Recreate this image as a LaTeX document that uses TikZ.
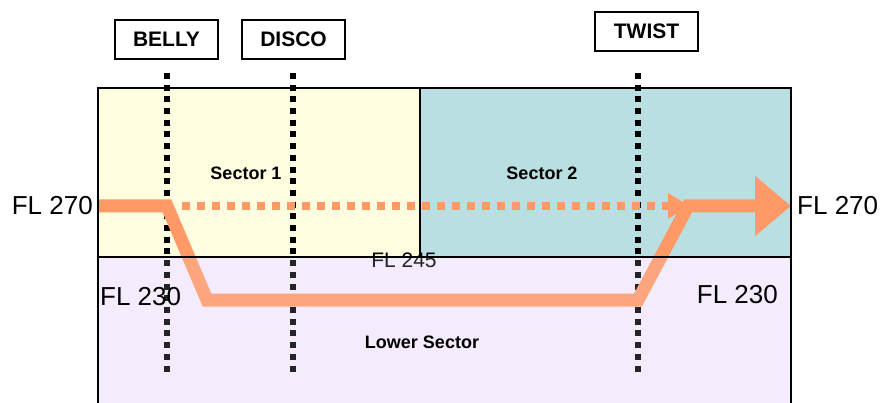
\documentclass[tikz,border=0pt]{standalone}
\usepackage{fontspec}
\setmainfont{Liberation Sans}
\usepackage{tikz}
\usetikzlibrary{arrows.meta}

\definecolor{secone}{HTML}{FFFDE0}
\definecolor{sectwo}{HTML}{B9DFE2}
\definecolor{seclow}{HTML}{F4ECFC}
\definecolor{route}{HTML}{FF9966}

\begin{document}
\begin{tikzpicture}[x=1pt, y=-1pt,
  fix/.style={draw, line width=2pt, minimum width=103pt, minimum height=39pt, inner sep=0pt, font=\fontsize{21}{21}\selectfont\bfseries},
  fixline/.style={line width=6.5pt, dash pattern=on 6pt off 5.7pt},
  fl/.style={font=\fontsize{26}{26}\selectfont, inner sep=0pt},
  sec/.style={font=\fontsize{18}{18}\selectfont\bfseries}]
  \useasboundingbox (0,0) rectangle (880,403);
  \fill[secone] (98,88) rectangle (420,257);
  \fill[sectwo] (420,88) rectangle (791,257);
  \fill[seclow] (98,257) rectangle (791,410);
  \node[sec] (s1) at (246,173) {Sector 1};
  \node[sec] (s2) at (542,173) {Sector 2};
  \node[font=\fontsize{21}{21}\selectfont, inner sep=0pt] (fl245) at (404,260) {FL 245};

  \node[fix] (belly) at (166.5,39.5) {BELLY};
  \node[fix] (disco) at (293.5,39.5) {DISCO};
  \node[fix] (twist) at (646.5,31.5) {TWIST};
  \foreach \x in {167,293,638}
    \draw[fixline] (\x,73) -- (\x,371.5);

  \coordinate (in) at (98,206);
  \coordinate (c1) at (167,206);
  \coordinate (c2) at (207,300);
  \coordinate (c3) at (638,300);
  \coordinate (c4) at (688,206);
  \coordinate (out) at (791,206);
  \coordinate (d1) at (182,206);
  \coordinate (d2) at (690,206);
  \draw[route, line width=8pt, dash pattern=on 8pt off 7pt, -{Triangle[length=22pt,width=24pt]}] (d1) -- (d2);
  \draw[route, line width=13pt, miter limit=3, -{Triangle[length=36pt,width=58pt]}]
    (in) -- (c1) -- (c2) -- (c3) -- (c4) -- (out);

  \fill[seclow, opacity=.15] (98,257) rectangle (791,410);
  \draw[line width=2pt] (98,410) -- (98,88) -- (791,88) -- (791,410);
  \draw[line width=2pt] (98,257) -- (791,257);
  \draw[line width=2pt] (420,88) -- (420,257);

  \node[sec] (low) at (422,342) {Lower Sector};
  \node[fl, anchor=east] (l270) at ([xshift=-5pt]in) {FL 270};
  \node[fl, anchor=west] (r270) at ([xshift=6pt]out) {FL 270};
  \node[fl, anchor=west] (l230) at (100,297) {FL 230};
  \node[fl, anchor=east] (r230) at (778,295) {FL 230};
\end{tikzpicture}
\end{document}
